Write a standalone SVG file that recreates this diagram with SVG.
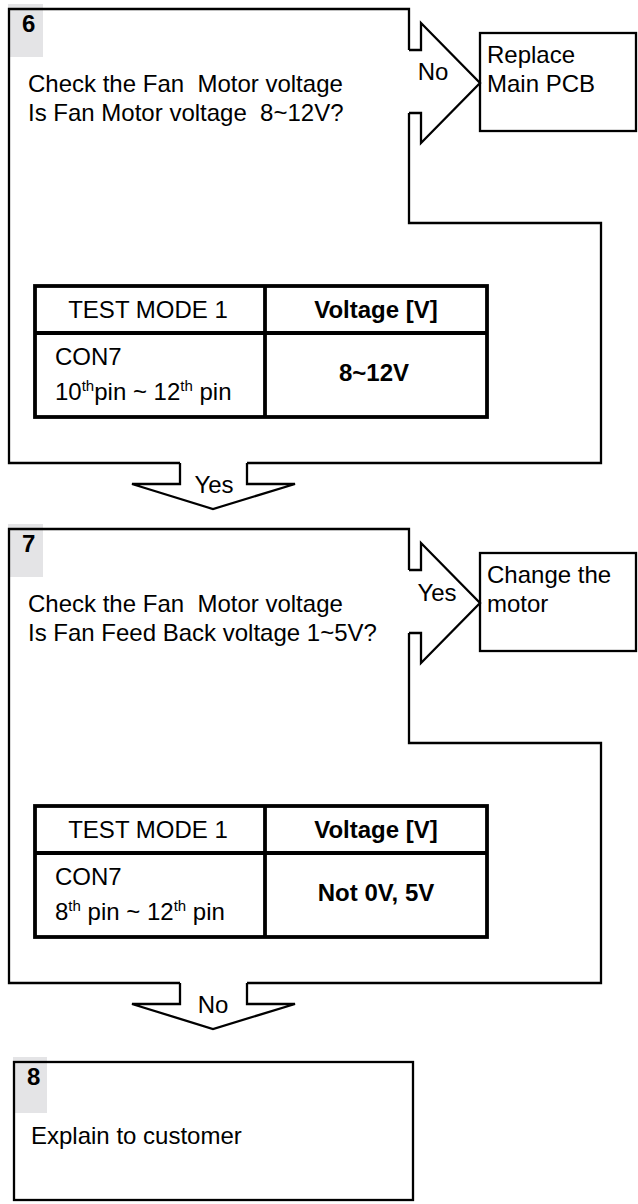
<svg xmlns="http://www.w3.org/2000/svg" width="638" height="1204" viewBox="0 0 638 1204">
<style>
  .frame { fill: none; stroke: #000; stroke-width: 2.3; stroke-linejoin: miter; }
  .conn { fill: none; stroke: #000; stroke-width: 2.3; stroke-linejoin: miter; }
  .box { fill: #fff; stroke: #000; stroke-width: 2.3; }
  .tag { fill: #e4e4e6; }
  .tbl { fill: none; stroke: #000; stroke-width: 3.8; }
  .t { font-family: "Liberation Sans", Arial, sans-serif; font-size: 24px; fill: #000; }
  .b { font-family: "Liberation Sans", Arial, sans-serif; font-size: 24px; font-weight: bold; fill: #000; }
  .m { text-anchor: middle; }
  .sup { font-size: 15px; }
</style>
<rect width="638" height="1204" fill="#fff"/>

<g id="step6">
  <rect class="tag" x="8" y="4" width="35" height="53"/>
  <path class="frame" d="M180,463 L9,463 L9,9 L409,9 L409,50 M409,113 L409,223 L601,223 L601,463 L247,463"/>
  <text class="b" x="22" y="32">6</text>
  <text class="t" x="28" y="92" xml:space="preserve">Check the Fan  Motor voltage</text>
  <text class="t" x="28" y="121" xml:space="preserve">Is Fan Motor voltage  8~12V?</text>
  <g id="table6">
    <rect class="tbl" x="35" y="286" width="452" height="131"/>
    <line class="tbl" x1="35" y1="333" x2="487" y2="333"/>
    <line class="tbl" x1="265" y1="286" x2="265" y2="417"/>
    <text class="t m" x="148" y="318">TEST MODE 1</text>
    <text class="b m" x="376" y="318">Voltage [V]</text>
    <text class="t" x="55" y="365">CON7</text>
    <text class="t" x="55" y="400">10<tspan class="sup" dy="-9">th</tspan><tspan dy="9">pin ~ 12</tspan><tspan class="sup" dy="-9">th</tspan><tspan dy="9"> pin</tspan></text>
    <text class="b m" x="374" y="381">8~12V</text>
  </g>
</g>

<g id="replace-pcb">
  <rect class="box" x="480" y="33" width="156" height="98"/>
  <text class="t" x="487" y="63">Replace</text>
  <text class="t" x="487" y="92">Main PCB</text>
</g>

<g id="step7">
  <rect class="tag" x="8" y="524" width="35" height="53"/>
  <path class="frame" d="M180,983 L9,983 L9,529 L409,529 L409,570 M409,633 L409,743 L601,743 L601,983 L247,983"/>
  <text class="b" x="22" y="552">7</text>
  <text class="t" x="28" y="612" xml:space="preserve">Check the Fan  Motor voltage</text>
  <text class="t" x="28" y="641">Is Fan Feed Back voltage 1~5V?</text>
  <g id="table7">
    <rect class="tbl" x="35" y="806" width="452" height="131"/>
    <line class="tbl" x1="35" y1="853" x2="487" y2="853"/>
    <line class="tbl" x1="265" y1="806" x2="265" y2="937"/>
    <text class="t m" x="148" y="838">TEST MODE 1</text>
    <text class="b m" x="376" y="838">Voltage [V]</text>
    <text class="t" x="55" y="885">CON7</text>
    <text class="t" x="55" y="920">8<tspan class="sup" dy="-9">th</tspan><tspan dy="9"> pin ~ 12</tspan><tspan class="sup" dy="-9">th</tspan><tspan dy="9"> pin</tspan></text>
    <text class="b m" x="376" y="901">Not 0V, 5V</text>
  </g>
</g>

<g id="change-motor">
  <rect class="box" x="480" y="553" width="156" height="98"/>
  <text class="t" x="487" y="583">Change the</text>
  <text class="t" x="487" y="612">motor</text>
</g>

<g id="step8">
  <rect class="tag" x="13" y="1057" width="34" height="56"/>
  <rect class="frame" x="14" y="1062" width="399" height="138"/>
  <text class="b" x="27" y="1085">8</text>
  <text class="t" x="31" y="1144">Explain to customer</text>
</g>

<g id="connectors">
  <path class="conn" d="M409,50 L421,50 L421,23 L480,83 L421,143 L421,113 L409,113"/>
  <text class="t m" x="433" y="80">No</text>
  <path class="conn" d="M180,463 L180,484 L132,484 L213,509 L295,484 L247,484 L247,463"/>
  <text class="t m" x="214" y="493">Yes</text>
  <path class="conn" d="M409,570 L421,570 L421,543 L480,603 L421,663 L421,633 L409,633"/>
  <text class="t m" x="437" y="601">Yes</text>
  <path class="conn" d="M180,983 L180,1004 L132,1004 L213,1029 L295,1004 L247,1004 L247,983"/>
  <text class="t m" x="213" y="1013">No</text>
</g>
</svg>
